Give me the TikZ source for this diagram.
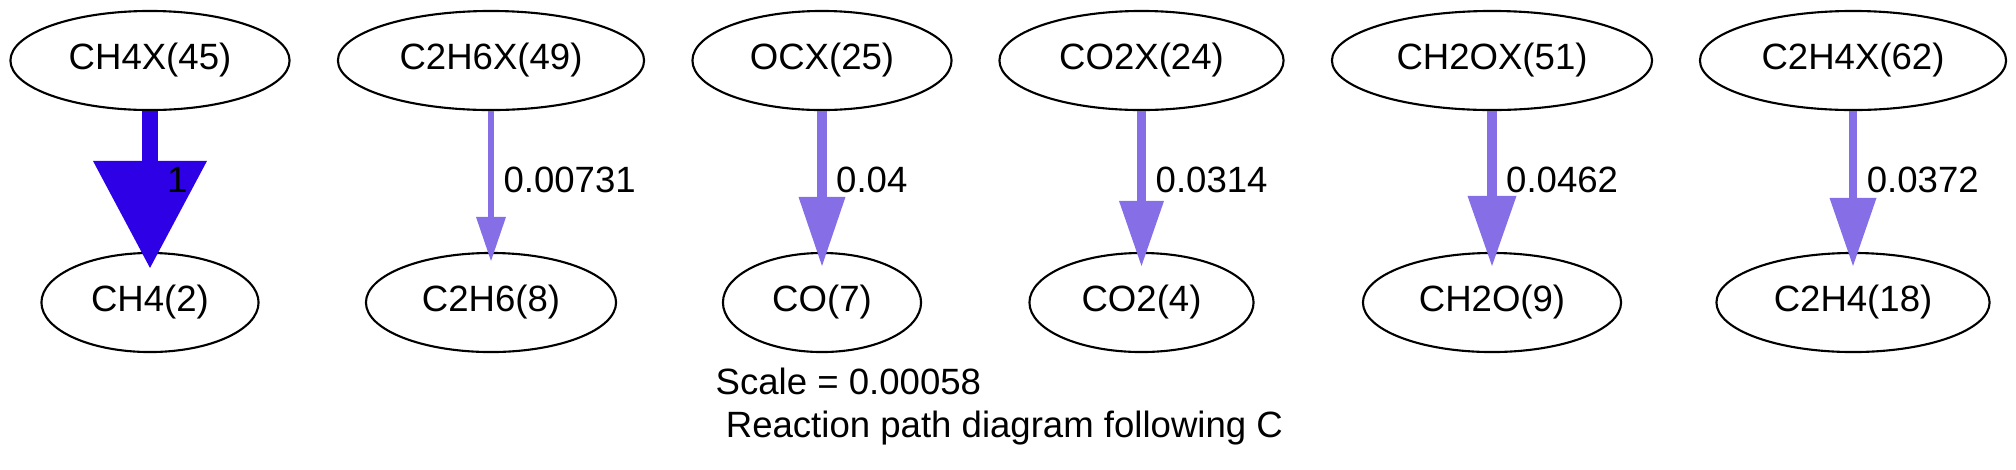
\documentclass[tikz,border=0pt]{standalone}
\usepackage{fontspec}
\setmainfont{Liberation Sans}
\usepackage{tikz}
\usetikzlibrary{arrows.meta,shapes.geometric}
\definecolor{FluxMain}{RGB}{46,0,230}
\definecolor{FluxMinor}{RGB}{133,110,230}
\tikzset{
  species/.style={ellipse,draw=black,line width=0.6pt,inner sep=0pt,minimum height=0.99cm,font=\fontsize{10.4}{12.2}\selectfont},
  fluxpath/.style={draw=FluxMinor,line width=0.093cm,-{Triangle[length=0.69cm,width=0.47cm,line width=0pt]},shorten >=-0.14cm},
  fluxlabel/.style={pos=0.486,anchor=west,inner sep=0pt,xshift=0.095cm,font=\fontsize{10.4}{12.2}\selectfont},
  scalelabel/.style={anchor=base west,align=left,inner sep=0pt,font=\fontsize{10.4}{12.2}\selectfont}
}
\begin{document}
\begin{tikzpicture}[x=0.01cm,y=-0.01cm]
\useasboundingbox (0,0) rectangle (2016,469);
% surface species
\node[species,minimum width=2.79cm] (ch4x) at (150,60.5) {CH4X(45)};
\node[species,minimum width=3.06cm] (c2h6x) at (491,60.5) {C2H6X(49)};
\node[species,minimum width=2.59cm] (ocx) at (822,60.5) {OCX(25)};
\node[species,minimum width=2.84cm] (co2x) at (1141.5,60.5) {CO2X(24)};
\node[species,minimum width=3.20cm] (ch2ox) at (1492,60.5) {CH2OX(51)};
\node[species,minimum width=3.06cm] (c2h4x) at (1853,60.5) {C2H4X(62)};
% gas species
\node[species,minimum width=2.17cm] (ch4) at (150,302.5) {CH4(2)};
\node[species,minimum width=2.50cm] (c2h6) at (491,302.5) {C2H6(8)};
\node[species,minimum width=1.98cm] (co) at (822,302.5) {CO(7)};
\node[species,minimum width=2.24cm] (co2) at (1141.5,302.5) {CO2(4)};
\node[species,minimum width=2.58cm] (ch2o) at (1492,302.5) {CH2O(9)};
\node[species,minimum width=2.73cm] (c2h4) at (1853,302.5) {C2H4(18)};

\draw[fluxpath,draw=FluxMain,line width=0.15cm,-{Triangle[length=1.07cm,width=1.14cm,line width=0pt]},shorten >=-0.16cm](ch4x)--node[fluxlabel]{1}(ch4);
\draw[fluxpath,line width=0.06cm,-{Triangle[length=0.44cm,width=0.30cm,line width=0pt]},shorten >=-0.09cm](c2h6x)--node[fluxlabel]{0.00731}(c2h6);
\draw[fluxpath](ocx)--node[fluxlabel]{0.04}(co);
\draw[fluxpath,-{Triangle[length=0.65cm,width=0.45cm,line width=0pt]}](co2x)--node[fluxlabel]{0.0314}(co2);
\draw[fluxpath,-{Triangle[length=0.70cm,width=0.49cm,line width=0pt]}](ch2ox)--node[fluxlabel]{0.0462}(ch2o);
\draw[fluxpath,line width=0.087cm,-{Triangle[length=0.68cm,width=0.47cm,line width=0pt]}](c2h4x)--node[fluxlabel]{0.0372}(c2h4);

\node[scalelabel] (scale) at (715,437) {Scale = 0.00058\\\hspace*{0.278em}Reaction path diagram following C};
\end{tikzpicture}
\end{document}
